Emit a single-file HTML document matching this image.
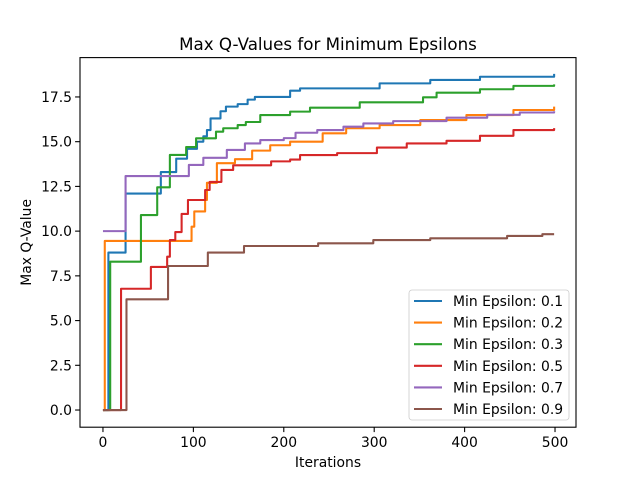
<!DOCTYPE html>
<html><head><meta charset="utf-8"><style>
body{margin:0;background:#fff}
svg{display:block;font-family:"DejaVu Sans","Liberation Sans",sans-serif}
</style></head><body>
<svg id="chart" width="640" height="480" viewBox="0 0 640 480"></svg>
<script>
const seriesLabels=["Min Epsilon: 0.1","Min Epsilon: 0.2","Min Epsilon: 0.3","Min Epsilon: 0.5","Min Epsilon: 0.7","Min Epsilon: 0.9"];
const colors=["#1f77b4","#ff7f0e","#2ca02c","#d62728","#9467bd","#8c564b"];
const xTicks=[0,100,200,300,400,500];
const yTicks=[0,2.5,5,7.5,10,12.5,15,17.5];
const yTickLabels=["0.0","2.5","5.0","7.5","10.0","12.5","15.0","17.5"];
const s01X=[0,6,25,64,81,93,104,111,115,119,130,136,149,160,168,207,218,306,362,417,499];
const s01Y=[0,8.8,12.1,13.3,14.05,14.6,15.0,15.3,15.65,16.3,16.7,16.96,17.1,17.35,17.5,17.85,17.98,18.26,18.45,18.63,18.79];
const s02X=[0,2,98,101,113,115,126,146,165,185,207,243,269,306,351,402,454,499];
const s02Y=[0,9.45,10.25,11.1,11.74,12.7,13.8,14.02,14.5,14.8,15.0,15.47,15.75,15.93,16.21,16.49,16.77,16.96];
const s03X=[0,8,42,60,74,92,103,125,133,149,158,174,207,229,284,354,369,417,454,499];
const s03Y=[0,8.29,10.9,12.45,14.26,14.7,15.19,15.56,15.75,15.93,16.1,16.49,16.68,16.9,17.2,17.48,17.74,17.93,18.12,18.2];
const s05X=[0,20,53,71,74,80,87,94,113,118,131,144,186,207,218,259,303,336,380,417,454,499];
const s05Y=[0,6.78,8.0,8.57,9.5,9.95,10.96,11.74,12.3,12.75,13.42,13.68,13.9,14.0,14.25,14.36,14.67,14.9,15.05,15.33,15.65,15.76];
const s07X=[0,25,95,111,137,157,174,200,213,237,266,288,321,380,425,461,499];
const s07Y=[10,13.08,13.7,14.1,14.54,14.9,15.09,15.2,15.5,15.65,15.84,16.02,16.15,16.34,16.5,16.63,16.7];
const s09X=[0,26,72,116,156,238,299,362,447,486,499];
const s09Y=[0,6.19,8.05,8.8,9.17,9.32,9.5,9.6,9.73,9.83,9.83];
const allX=[s01X,s02X,s03X,s05X,s07X,s09X];
const allY=[s01Y,s02Y,s03Y,s05Y,s07Y,s09Y];

const L=80,R=576,T=57.6,B=427.2;
const xMin=-25.4,xMax=523.2,yMin=-0.96,yMax=19.70;
const sx=v=>L+(v-xMin)/(xMax-xMin)*(R-L);
const sy=v=>B-(v-yMin)/(yMax-yMin)*(B-T);
const svg=document.getElementById('chart');
const NS="http://www.w3.org/2000/svg";
function mk(tag,attrs,parent){const e=document.createElementNS(NS,tag);for(const k in attrs)e.setAttribute(k,attrs[k]);(parent||svg).appendChild(e);return e;}

for(let i=0;i<allX.length;i++){
  const xs=allX[i],ys=allY[i];
  let d="M"+sx(xs[0])+","+sy(ys[0]);
  for(let j=1;j<xs.length;j++){d+=" L"+sx(xs[j])+","+sy(ys[j-1])+" L"+sx(xs[j])+","+sy(ys[j]);}
  const p=mk('path',{d:d,fill:'none',stroke:colors[i],'stroke-width':2.08,'stroke-linejoin':'round'});
  
  
}
const fr=mk('rect',{x:L,y:T,width:R-L,height:B-T,fill:'none',stroke:'#000','stroke-width':1.1});


xTicks.forEach(v=>{
  mk('line',{x1:sx(v),x2:sx(v),y1:B,y2:B+4.9,stroke:'#000','stroke-width':1.1});
  const t=mk('text',{x:sx(v),y:B+20,'font-size':13.9,'text-anchor':'middle'});
  t.textContent=v;
  
  
});
yTicks.forEach((v,i)=>{
  mk('line',{x1:L-4.9,x2:L,y1:sy(v),y2:sy(v),stroke:'#000','stroke-width':1.1});
  const t=mk('text',{x:L-8,y:sy(v)+5,'font-size':13.9,'text-anchor':'end'});
  t.textContent=yTickLabels[i];
  
  
});
const xt=mk('text',{x:(L+R)/2,y:467,'font-size':13.9,'text-anchor':'middle'});xt.textContent="Iterations";


const yt=mk('text',{x:31,y:(T+B)/2,'font-size':13.9,'text-anchor':'middle',transform:'rotate(-90 31 '+((T+B)/2)+')'});yt.textContent="Max Q-Value";


const tt=mk('text',{x:(L+R)/2,y:50,'font-size':16.7,'text-anchor':'middle'});tt.textContent="Max Q-Values for Minimum Epsilons";


const lg=mk('rect',{x:409,y:290,width:160,height:130,rx:3,fill:'#fff','fill-opacity':0.8,stroke:'#ccc','stroke-width':0.8});


seriesLabels.forEach((s,i)=>{
  const y=301+i*21.6;
  mk('line',{x1:414,x2:442,y1:y,y2:y,stroke:colors[i],'stroke-width':2.08});
  const t=mk('text',{x:453,y:y+5,'font-size':13.9});t.textContent=s;
  
  
});
</script>
</body></html>
